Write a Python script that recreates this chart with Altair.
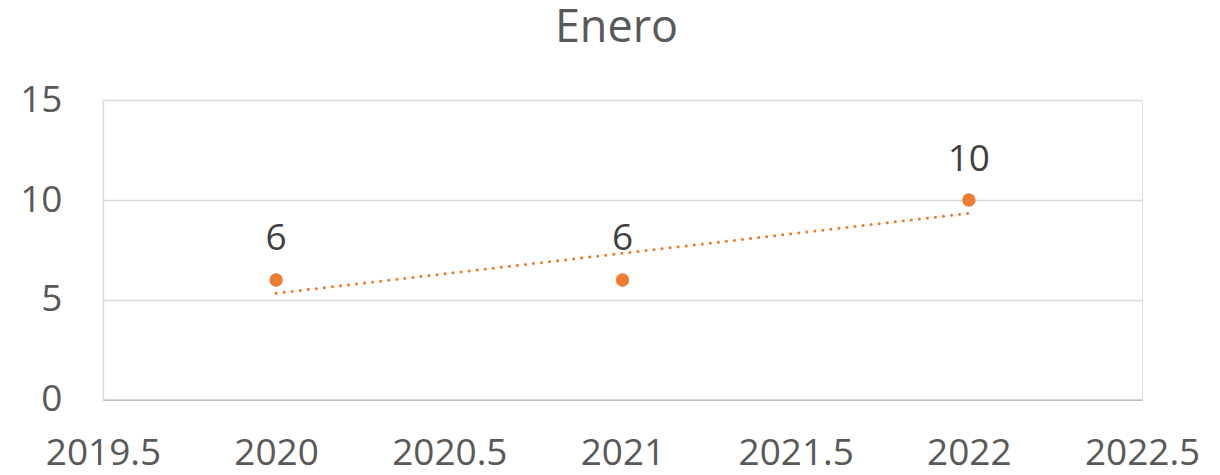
import altair as alt
import pandas as pd

years = [2020, 2021, 2022]
values = [6, 6, 10]
x_ticks = [2019.5, 2020, 2020.5, 2021, 2021.5, 2022, 2022.5]
y_ticks = [0, 5, 10, 15]

df = pd.DataFrame({"year": years, "value": values})
ORANGE = "#ED7D31"
FONT = "Open Sans"

x = alt.X("year:Q", scale=alt.Scale(domain=[2019.5, 2022.5], nice=False, zero=False),
          axis=alt.Axis(values=x_ticks, labelExpr="toString(datum.value)", grid=False,
                        ticks=False, domainColor="#bfbfbf", domainWidth=1.5,
                        labelFontSize=37, labelFont=FONT, labelColor="#595959",
                        labelPadding=65, labelBaseline="alphabetic", title=None,
                        labelFlush=False, labelOverlap=False))
y = alt.Y("value:Q", scale=alt.Scale(domain=[0, 15], nice=False),
          axis=alt.Axis(values=y_ticks, grid=True, gridColor="#d9d9d9", gridWidth=1.5,
                        ticks=False, domainColor="#d9d9d9", domainWidth=1.5,
                        labelFontSize=37, labelFont=FONT, labelColor="#595959",
                        labelPadding=41, title=None))

base = alt.Chart(df)

trend = base.transform_regression("year", "value").mark_line(
    color=ORANGE, strokeWidth=3, strokeDash=[0.1, 8], strokeCap="round"
).encode(x=x, y=y)

points = base.mark_circle(color=ORANGE, size=180, opacity=1).encode(x=x, y=y)

labels = base.mark_text(font=FONT, fontSize=37, color="#404040",
                        baseline="alphabetic", dy=-29.5).encode(
    x=x, y=y, text=alt.Text("value:Q"))

chart = alt.layer(trend, points, labels).properties(
    width=1040, height=300,
    title=alt.TitleParams("Enero", font=FONT, fontSize=45, fontWeight="normal",
                          color="#595959", anchor="middle", offset=0, frame="group",
                          baseline="alphabetic", dx=-6, dy=6),
    autosize=alt.AutoSizeParams(type="none"),
    padding={"left": 95, "top": 92, "right": 70, "bottom": 75},
).configure_view(stroke=None).configure(background="white")

chart.save("out.html", embed_options={"renderer": "svg", "actions": False})
